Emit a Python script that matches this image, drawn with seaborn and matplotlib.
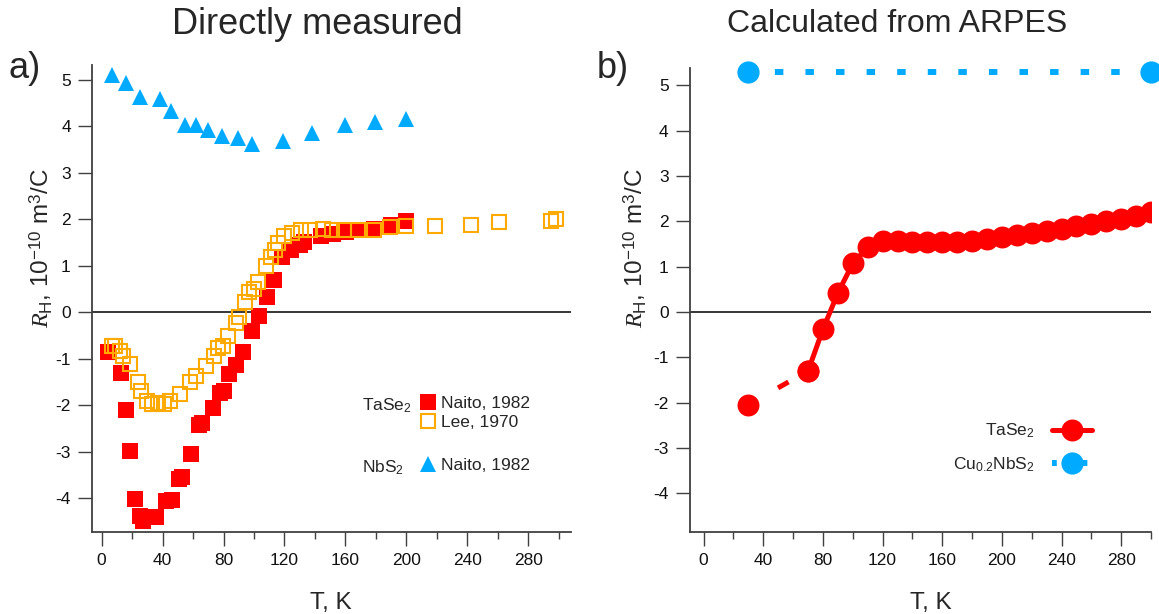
import matplotlib
matplotlib.use('Agg')
import matplotlib.pyplot as plt
from matplotlib.ticker import MultipleLocator
import seaborn as sns

# ---- data ----
# a) TaSe2, Naito 1982 (filled red squares)
naito_tase2_T = [4, 13, 16, 18.5, 22, 25, 27, 36, 42, 46, 51, 53, 58.5, 64, 66,
                 73, 78, 80, 83.5, 88, 93, 98.5, 103, 108.5, 113, 118.5, 124,
                 130, 133, 144, 152, 160.5, 168, 179, 190, 200]
naito_tase2_R = [-0.86, -1.31, -2.10, -2.99, -4.02, -4.39, -4.48, -4.41, -4.07,
                 -4.03, -3.59, -3.55, -3.05, -2.43, -2.39, -2.05, -1.74, -1.70,
                 -1.33, -1.13, -0.85, -0.40, -0.09, 0.32, 0.70, 1.20, 1.35,
                 1.44, 1.51, 1.65, 1.68, 1.73, 1.78, 1.80, 1.87, 1.96]

# a) TaSe2, Lee 1970 (open orange squares)
lee_tase2_T = [6.5, 8.7, 12, 14, 18.5, 24, 26, 29.5, 33, 37, 41, 44.8, 51.3, 58,
               62, 68.8, 74, 76.5, 79.7, 83, 88.5, 90, 94, 97, 100, 102.5, 108,
               111, 114, 115.5, 120, 125, 131, 136.5, 145, 151.5, 159, 168, 179,
               189, 200, 219, 242.5, 260.5, 294.7, 298]
lee_tase2_R = [-0.72, -0.73, -0.83, -0.94, -1.12, -1.51, -1.69, -1.91, -1.98,
               -1.96, -1.98, -1.91, -1.76, -1.51, -1.37, -1.15, -0.94, -0.76,
               -0.72, -0.52, -0.22, -0.10, 0.22, 0.43, 0.50, 0.65, 1.00, 1.19,
               1.35, 1.50, 1.64, 1.70, 1.76, 1.76, 1.80, 1.78, 1.78, 1.78, 1.78,
               1.84, 1.86, 1.86, 1.87, 1.94, 1.97, 2.01]

# a) NbS2, Naito 1982 (blue triangles)
naito_nbs2_T = [6.5, 16, 25.5, 38, 45.5, 55, 62, 69.5, 79, 89.5, 99, 119, 138,
                160, 179.5, 200]
naito_nbs2_R = [5.11, 4.93, 4.64, 4.59, 4.32, 4.03, 4.03, 3.92, 3.80, 3.74, 3.63,
                3.68, 3.85, 4.03, 4.10, 4.15]

# b) calculated from ARPES
arpes_tase2_T = [30, 70, 80, 90, 100, 110, 120, 130, 140, 150, 160, 170, 180,
                 190, 200, 210, 220, 230, 240, 250, 260, 270, 280, 290, 300]
arpes_tase2_R = [-2.04, -1.30, -0.38, 0.42, 1.07, 1.43, 1.57, 1.56, 1.55, 1.55,
                 1.55, 1.55, 1.56, 1.60, 1.65, 1.70, 1.74, 1.79, 1.84, 1.89,
                 1.95, 2.00, 2.06, 2.12, 2.20]
arpes_cunbs2_T = [30, 300]
arpes_cunbs2_R = [5.3, 5.3]

red = '#ff0000'
orange = '#ffaa00'
blue = '#00aaff'

sns.set_style('ticks')
plt.rcParams['font.family'] = ['Liberation Sans', 'DejaVu Sans']
plt.rcParams['mathtext.fontset'] = 'custom'
plt.rcParams['mathtext.rm'] = 'Liberation Sans'
plt.rcParams['mathtext.it'] = 'Liberation Serif:italic'
plt.rcParams['mathtext.bf'] = 'Liberation Sans:bold'
plt.rcParams['axes.unicode_minus'] = False

W, H = 1159, 614
fig = plt.figure(figsize=(W / 100, H / 100), dpi=100)
axL = fig.add_axes([91.7 / W, 1 - 531.7 / H, 479.3 / W, 466.7 / H])
axR = fig.add_axes([689.5 / W, 1 - 532 / H, 461.5 / W, 464 / H])

for ax in (axL, axR):
    ax.axhline(0, color='black', lw=1.1, zorder=1)

# ---- panel a ----
sns.lineplot(x=naito_tase2_T, y=naito_tase2_R, ax=axL, estimator=None, sort=False,
             color=red, linestyle='none', marker='s', markersize=11,
             markeredgewidth=0, zorder=3)
h_naito_tase = axL.lines[-1]
sns.lineplot(x=lee_tase2_T, y=lee_tase2_R, ax=axL, estimator=None, sort=False,
             color=orange, linestyle='none', marker='s', markersize=9.4,
             markerfacecolor='none', markeredgecolor=orange,
             markeredgewidth=1.5, zorder=4)
h_lee = axL.lines[-1]
sns.lineplot(x=naito_nbs2_T, y=naito_nbs2_R, ax=axL, estimator=None, sort=False,
             color=blue, linestyle='none', marker='^', markersize=11.5,
             markeredgewidth=0, zorder=3)
h_nbs = axL.lines[-1]

axL.set_xlim(-6.5, 308)
axL.set_ylim(-4.72, 5.32)

leg_fs = 12.5
leg1 = axL.legend([h_naito_tase, h_lee], ['Naito, 1982', 'Lee, 1970'],
                  loc='upper left', bbox_to_anchor=(420 / W, 1 - 396 / H),
                  bbox_transform=fig.transFigure, frameon=False, borderpad=0,
                  borderaxespad=0, handlelength=0.88, handletextpad=0.35,
                  labelspacing=0.2, fontsize=leg_fs)
axL.add_artist(leg1)
axL.legend([h_nbs], ['Naito, 1982'],
           loc='upper left', bbox_to_anchor=(420 / W, 1 - 458 / H),
           bbox_transform=fig.transFigure, frameon=False, borderpad=0,
           borderaxespad=0, handlelength=0.88, handletextpad=0.35,
           fontsize=leg_fs)
fig.text(361.7 / W, 1 - 406 / H, 'TaSe$_2$', va='center', ha='left', fontsize=leg_fs)
fig.text(361.7 / W, 1 - 468 / H, 'NbS$_2$', va='center', ha='left', fontsize=leg_fs)

# ---- panel b ----
# dashed link between the first two points: one dash visible mid-way
sns.lineplot(x=arpes_tase2_T[:2], y=arpes_tase2_R[:2], ax=axR, estimator=None,
             color=red, linestyle=(15.6, (2.4, 20)), lw=3.6, marker='o',
             markersize=15.8, markeredgewidth=0, zorder=3)
sns.lineplot(x=arpes_tase2_T[1:], y=arpes_tase2_R[1:], ax=axR, estimator=None,
             color=red, lw=3.6, marker='o', markersize=15.8,
             markeredgewidth=0, zorder=3)
h_tase_calc = axR.lines[-1]
sns.lineplot(x=arpes_cunbs2_T, y=arpes_cunbs2_R, ax=axR, estimator=None,
             color=blue, linestyle=(0.62, (1.42, 3.7)), lw=4.3, marker='o',
             markersize=16, markeredgewidth=0, zorder=3, clip_on=False)
h_cu = axR.lines[-1]

axR.set_xlim(-9.5, 300)
axR.set_ylim(-4.85, 5.38)

axR.legend([h_tase_calc, h_cu], ['TaSe$_2$', 'Cu$_{0.2}$NbS$_2$'],
           loc='upper right', bbox_to_anchor=(1091.7 / W, 1 - 422 / H),
           bbox_transform=fig.transFigure, markerfirst=False, frameon=False,
           borderpad=0, borderaxespad=0, handlelength=2.3, handletextpad=0.96,
           labelspacing=0.86, fontsize=leg_fs)

# ---- axes styling ----
ylabel = r'$\mathit{R}_{\mathrm{H}}$, 10$^{\mathrm{-10}}$ m$^{3}$/C'
for ax in (axL, axR):
    sns.despine(ax=ax)
    for side in ('left', 'bottom'):
        ax.spines[side].set_color('#404040')
        ax.spines[side].set_linewidth(1.3)
    ax.xaxis.set_major_locator(MultipleLocator(40))
    ax.xaxis.set_minor_locator(MultipleLocator(20))
    ax.yaxis.set_major_locator(MultipleLocator(1))
    ax.tick_params(which='major', direction='out', length=10, width=1.0,
                   color='#404040', labelsize=12.5, pad=5, labelcolor='#111111')
    ax.tick_params(which='minor', direction='out', length=5, width=1.0,
                   color='#404040')
    ax.tick_params(axis='y', which='minor', left=False)
    ax.set_xticks(range(0, 281, 40))
    ax.set_xlabel('T, K', fontsize=17.5)
    ax.set_ylabel(ylabel, fontsize=17.5)

axL.xaxis.set_label_coords((331 - 91.7) / 479.3, -(592 - 531.7) / 466.7)
axR.xaxis.set_label_coords((931 - 689.5) / 461.5, -(592 - 532) / 464)
axL.yaxis.set_label_coords(-(91.7 - 55) / 479.3, (531.7 - 248) / 466.7)
axR.yaxis.set_label_coords(-(689.5 - 649) / 461.5, (532 - 248) / 464)

fig.text(317 / W, 1 - 24 / H, 'Directly measured', ha='center', va='center',
         fontsize=26)
fig.text(897 / W, 1 - 24 / H, 'Calculated from ARPES', ha='center', va='center',
         fontsize=23)
fig.text(8 / W, 1 - 68 / H, 'a)', ha='left', va='center', fontsize=26)
fig.text(597 / W, 1 - 68 / H, 'b)', ha='left', va='center', fontsize=26)

fig.savefig('out.png', dpi=100)
